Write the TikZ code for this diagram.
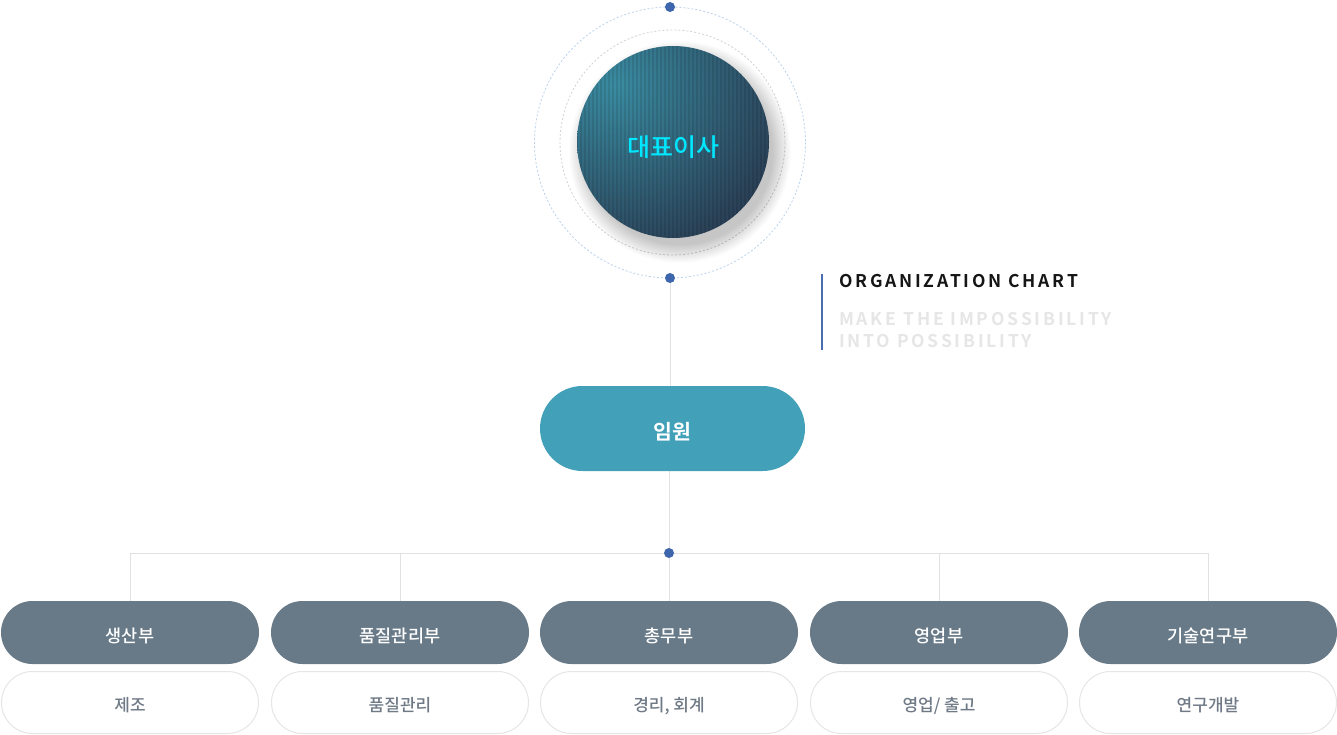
\documentclass[tikz,border=0pt]{standalone}
\usepackage{fontspec}
\setmainfont{Noto Sans CJK KR}
\newfontfamily\krmed{Noto Sans CJK KR Medium}
\newfontfamily\krbold{Noto Sans CJK KR Bold}
\newfontfamily\enbold[LetterSpace=16]{Noto Sans CJK KR Bold}
\usetikzlibrary{shapes.misc}
\pgfdeclarelayer{bg}
\pgfsetlayers{bg,main}
\definecolor{deptgray}{HTML}{687A88}
\definecolor{dutytext}{HTML}{6F7A86}
\definecolor{dutyline}{HTML}{E6E6E6}
\definecolor{connline}{HTML}{E2E2E2}
\definecolor{dotblue}{HTML}{3E66AD}
\definecolor{execteal}{HTML}{42A0B8}
\definecolor{ceolight}{HTML}{3A8CA2}
\definecolor{ceodark}{HTML}{272F45}
\definecolor{ceotext}{HTML}{00E8FF}
\definecolor{ringblue}{HTML}{BCD3EE}
\definecolor{ringgray}{HTML}{D2D2D2}
\definecolor{barblue}{HTML}{4A6FB0}
\definecolor{faint}{HTML}{E6E6E6}
\definecolor{titleblack}{HTML}{151515}
\tikzset{
  dept/.style={rounded rectangle, fill=deptgray, minimum width=258pt, minimum height=63pt,
    inner sep=0pt, text=white, text height=19pt, text depth=0pt,
    font=\krmed\fontsize{17.5}{20}\selectfont},
  duty/.style={rounded rectangle, draw=dutyline, line width=1pt, fill=white,
    minimum width=257pt, minimum height=62pt, inner sep=0pt, text=dutytext,
    text height=17pt, text depth=0pt,
    font=\krmed\fontsize{17}{20}\selectfont},
  conn/.style={draw=connline, line width=1pt},
  bluedot/.style={circle, fill=dotblue, minimum size=10pt, inner sep=0pt},
  ringdash/.style={line width=0.8pt, dash pattern=on 2pt off 2pt},
  engtext/.style={anchor=base west, inner sep=0pt, font=\enbold\fontsize{17.5}{20}\selectfont}
}
\begin{document}
\begin{tikzpicture}[x=1pt,y=-1pt]
\begin{pgfonlayer}{bg}
\fill[white] (0,0) rectangle (1337,735);
\end{pgfonlayer}
\useasboundingbox (0,0) rectangle (1337,735);

% rings
\draw[ringdash, draw=ringblue] (670,142.5) circle (135.5);
\draw[ringdash, draw=ringgray] (672.5,142.5) circle (112.5);

% shadow of main circle
\foreach \i in {0,...,18}{
  \fill[black, opacity=0.01] (680,152) circle ({93+\i});
}

% main circle with gradient and stripes
\begin{scope}
  \clip (673,142) circle (96);
  \shade[inner color=ceolight, outer color=ceodark] (615,85) circle (215);
  \foreach \x in {577,581,...,769}{
    \draw[black, opacity=0.1, line width=1.1pt] (\x,40) -- (\x,245);
  }
\end{scope}
\node[circle, minimum size=192pt, inner sep=0pt, text=ceotext,
  text height=29pt, text depth=0pt,
  font=\krmed\fontsize{25}{28}\selectfont] (ceo) at (673,142) {대표이사};

% dots
\node[bluedot] (dtop) at (670,7) {};
\node[bluedot] (dbot) at (670,278) {};

% exec
\node[rounded rectangle, fill=execteal, minimum width=265pt, minimum height=85pt,
  inner sep=0pt, text=white, text height=21pt, text depth=0pt,
  font=\krbold\fontsize{20.5}{24}\selectfont] (exec) at (672.5,428.5) {임원};

% departments
\node[dept] (d1) at (130,632.5) {생산부};
\node[dept] (d2) at (400,632.5) {품질관리부};
\node[dept] (d3) at (669,632.5) {총무부};
\node[dept] (d4) at (939,632.5) {영업부};
\node[dept] (d5) at (1208,632.5) {기술연구부};

\node[duty] (u1) at (130,702.5) {제조};
\node[duty] (u2) at (400,702.5) {품질관리};
\node[duty] (u3) at (669,702.5) {경리, 회계};
\node[duty] (u4) at (939,702.5) {영업/ 출고};
\node[duty] (u5) at (1208,702.5) {연구개발};

% junction dot
\node[bluedot] (junc) at (669,553) {};

% connectors (behind)
\begin{pgfonlayer}{bg}
\path[conn] (dbot.center) -- (dbot |- exec.north);
\path[conn] (junc |- exec.south) -- (junc.center);
\foreach \d in {d1,d2,d3,d4,d5}{
  \path[conn] (junc.center) -| (\d.north);
}
\end{pgfonlayer}

% title block
\draw[barblue, line width=2pt] (822,274) -- (822,350);
\node[engtext, text=titleblack] (title) at (839,287) {ORGANIZATION CHART};
\node[engtext, text=faint] (sub1) at (839,325) {MAKE THE IMPOSSIBILITY};
\node[engtext, text=faint] (sub2) at (839,347) {INTO POSSIBILITY};
\end{tikzpicture}
\end{document}
